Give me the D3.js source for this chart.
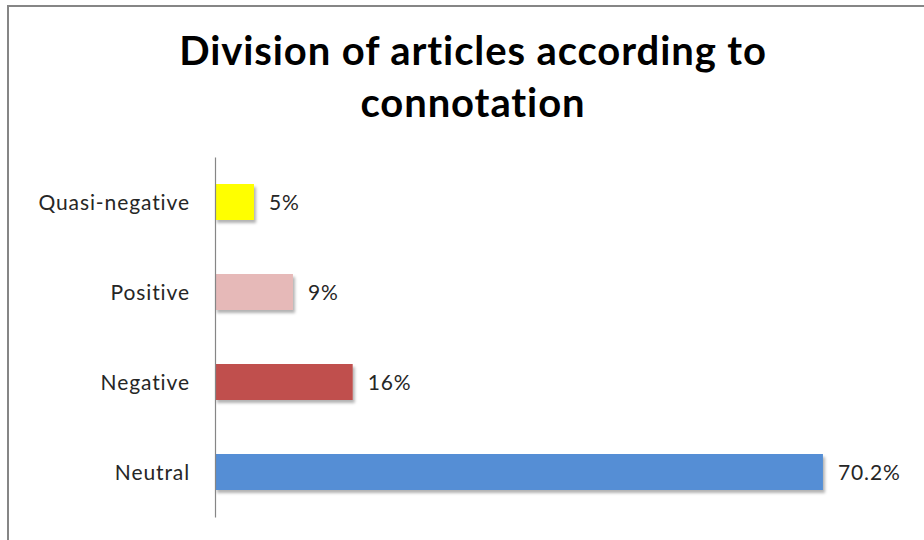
<!DOCTYPE html>
<html>
<head>
<meta charset="utf-8">
<script src="https://cdn.jsdelivr.net/npm/d3@7/dist/d3.min.js"></script>
<style>
  html, body { margin: 0; padding: 0; background: #fff; }
  svg { display: block; font-family: Lato, "Open Sans", sans-serif; }
</style>
</head>
<body>
<svg id="chart" width="924" height="540"></svg>
<script>
const categories = ["Quasi-negative", "Positive", "Negative", "Neutral"];
const values = [4.5, 9, 15.9, 70.2];
const valueLabels = ["5%", "9%", "16%", "70.2%"];
const colors = ["#ffff00", "#e6b9b8", "#c0504d", "#558ed5"];
const titleLines = ["Division of articles according to", "connotation"];

const svg = d3.select("#chart");
const W = 924, H = 540;

const defs = svg.append("defs");
const f = defs.append("filter").attr("id", "shadow")
  .attr("x", "-10%").attr("y", "-20%").attr("width", "130%").attr("height", "160%");
f.append("feDropShadow").attr("dx", 2).attr("dy", 3).attr("stdDeviation", 1.5)
  .attr("flood-color", "#000").attr("flood-opacity", 0.3);

// outer chart border
svg.append("rect").attr("x", 8).attr("y", 6).attr("width", W + 20).attr("height", H + 20)
  .attr("fill", "#fff").attr("stroke", "#868686").attr("stroke-width", 2);

// title
svg.append("g").selectAll("text").data(titleLines).join("text")
  .attr("x", 473).attr("y", (d, i) => 65 + i * 52)
  .attr("text-anchor", "middle")
  .attr("font-weight", "bold").attr("font-size", 40).attr("letter-spacing", 0.9)
  .attr("fill", "#000")
  .text(d => d);

const plot = { left: 215, top: 157, bottom: 517 };
const x = d3.scaleLinear().domain([0, 80]).range([plot.left, plot.left + 80 * 8.66]);
const y = d3.scaleBand().domain(categories).range([plot.top, plot.bottom]).paddingInner(0.6).paddingOuter(0.3);

const rows = categories.map((c, i) => ({ c, v: values[i], lab: valueLabels[i], col: colors[i] }));

svg.append("g").selectAll("rect").data(rows).join("rect")
  .attr("x", x(0)).attr("y", d => y(d.c))
  .attr("width", d => x(d.v) - x(0)).attr("height", y.bandwidth())
  .attr("fill", d => d.col).attr("filter", "url(#shadow)");

// axis
const yAxis = d3.axisLeft(y).tickSize(0).tickPadding(25);
const ga = svg.append("g").attr("transform", `translate(${plot.left},0)`).call(yAxis);
ga.select(".domain").attr("stroke", "#868686").attr("stroke-width", 1.2);
ga.selectAll("text").attr("font-size", 21).attr("font-family", "Lato, sans-serif")
  .attr("letter-spacing", 0.9).attr("fill", "#262626").attr("dy", "0.38em");

svg.append("g").selectAll("text").data(rows).join("text")
  .attr("x", d => x(d.v) + 15).attr("y", d => y(d.c) + y.bandwidth() / 2)
  .attr("dy", "0.38em").attr("font-size", 21).attr("letter-spacing", 0.9).attr("fill", "#262626")
  .text(d => d.lab);
</script>
</body>
</html>
